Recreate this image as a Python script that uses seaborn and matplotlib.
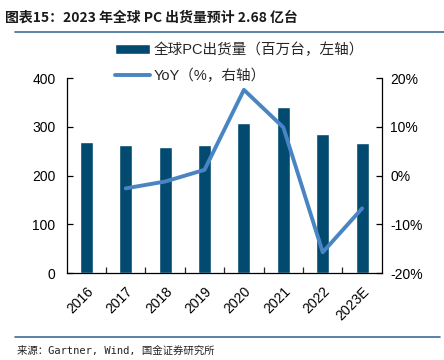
import matplotlib
matplotlib.use("Agg")
import matplotlib.pyplot as plt
import seaborn as sns
import numpy as np
import pandas as pd
from matplotlib.lines import Line2D
from matplotlib.ticker import FuncFormatter, FixedLocator

# 数据
years = ["2016", "2017", "2018", "2019", "2020", "2021", "2022", "2023E"]
shipments = [270, 262, 259, 262, 309, 340, 285, 268]
yoy_years = ["2017", "2018", "2019", "2020", "2021", "2022", "2023E"]
yoy = [-2.6, -1.2, 1.2, 17.6, 9.9, -15.7, -6.7]

bar_color = "#024A70"
line_color = "#4A85C3"
rule_color = "#3B6E99"

sns.set_style("white")
plt.rcParams["font.family"] = ["Liberation Sans", "Noto Sans CJK SC", "DejaVu Sans"]
plt.rcParams["axes.unicode_minus"] = False

df_bar = pd.DataFrame({"year": years, "value": shipments})
pos = {y: i for i, y in enumerate(years)}
df_line = pd.DataFrame({"x": [pos[y] for y in yoy_years], "yoy": yoy})

fig = plt.figure(figsize=(4.44, 3.6), dpi=100)
ax = fig.add_axes([0.150, 0.241, 0.710, 0.542])

sns.barplot(data=df_bar, x="year", y="value", color=bar_color, width=0.33,
            saturation=1, ax=ax, label="全球PC出货量（百万台，左轴）")
ax.set_ylim(0, 400)
ax.set_yticks([0, 100, 200, 300, 400])
ax.set_xlim(-0.5, len(years) - 0.5)
ax.set_xlabel("")
ax.set_ylabel("")

ax2 = ax.twinx()
sns.lineplot(data=df_line, x="x", y="yoy", color=line_color, linewidth=2.8,
             ax=ax2, label="YoY（%，右轴）")
ax2.set_ylim(-20, 20)
ax2.set_yticks([-20, -10, 0, 10, 20])
ax2.yaxis.set_major_formatter(FuncFormatter(lambda v, p: f"{v:.0f}%"))
ax2.set_xlabel("")
ax2.set_ylabel("")
ax2.set_xlim(-0.5, len(years) - 0.5)

for a in (ax, ax2):
    a.spines["top"].set_visible(False)
    for s in ("left", "right", "bottom"):
        a.spines[s].set_color("black")
        a.spines[s].set_linewidth(0.9)
    a.tick_params(axis="both", direction="in", length=4, width=0.9,
                  labelsize=10, colors="black")
ax.spines["right"].set_visible(False)
ax2.spines["left"].set_visible(False)
ax2.spines["bottom"].set_visible(False)
ax.tick_params(axis="y", left=True, pad=8)
ax2.tick_params(axis="y", right=True, pad=6)

# x轴：标签居中，刻度在类别之间
ax.set_xticks(range(len(years)))
ax.set_xticklabels(years, rotation=45, ha="right", rotation_mode="anchor")
ax.tick_params(axis="x", bottom=True, length=0, pad=8)
ax.xaxis.set_minor_locator(FixedLocator(np.arange(0.5, len(years) - 1, 1.0)))
ax.tick_params(axis="x", which="minor", bottom=True, direction="in", length=4, width=0.9)

if ax2.get_legend():
    ax2.get_legend().remove()
if ax.get_legend():
    ax.get_legend().remove()

h1, l1 = ax.get_legend_handles_labels()
h2, l2 = ax2.get_legend_handles_labels()
fig.legend(h1 + h2, l1 + l2, loc="upper left", bbox_to_anchor=(0.245, 0.897),
           frameon=False, fontsize=10.5, handlelength=2.4, handletextpad=0.3,
           labelspacing=0.8, borderaxespad=0)

# 标题与来源
fig.text(0.012, 0.95, "图表15：2023 年全球 PC 出货量预计 2.68 亿台", fontsize=10,
         fontweight="bold", style="italic", color="#1a1a1a", va="center",
         family=["Noto Sans CJK SC", "DejaVu Sans"])
fig.add_artist(Line2D([0.034, 1.0], [0.91, 0.91], color=rule_color, linewidth=1.2))
fig.add_artist(Line2D([0.034, 0.99], [0.064, 0.064], color=rule_color, linewidth=1.2))
fig.text(0.038, 0.027, "来源：Gartner, Wind, 国金证券研究所", fontsize=7.5,
         color="#222222", va="center",
         family=["DejaVu Sans Mono", "Noto Sans CJK SC"])

fig.savefig("out.png", dpi=100)
